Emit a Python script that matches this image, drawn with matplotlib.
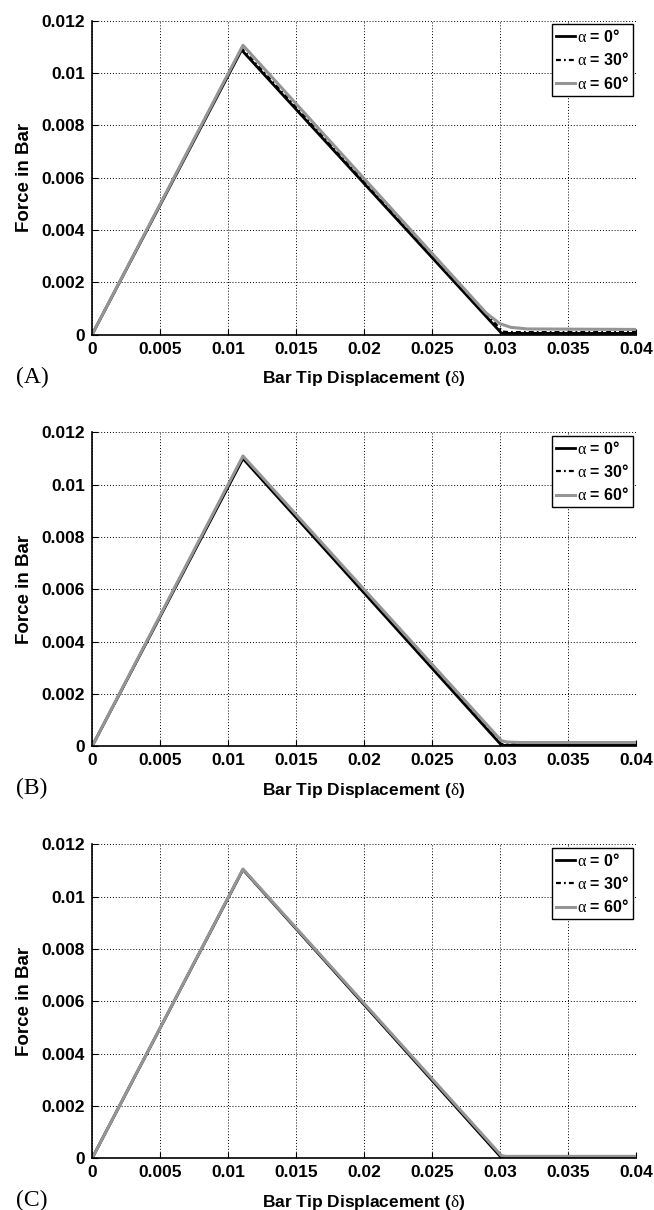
"""
Force in bar vs. bar tip displacement for three loading angles, three cases
"""

import matplotlib
import matplotlib.pyplot as plt
matplotlib.use("AGG")

plt.rcParams['font.family'] = ['Liberation Sans', 'DejaVu Sans']
plt.rcParams['mathtext.fontset'] = 'custom'
plt.rcParams['mathtext.rm'] = 'Liberation Serif'
plt.rcParams['mathtext.it'] = 'Liberation Serif'
plt.rcParams['mathtext.bf'] = 'Liberation Serif'

# ---- data (displacement, force) per case and angle ----
labels = [r'$\alpha$ = 0°', r'$\alpha$ = 30°', r'$\alpha$ = 60°']
panel_names = ['(A)', '(B)', '(C)']

# case A
a_x0 = [0, 0.0110, 0.0301, 0.0304, 0.04]
a_y0 = [0, 0.01088, 0.00006, 0.00005, 0.00005]
a_x30 = [0, 0.0110, 0.0302, 0.0306, 0.04]
a_y30 = [0, 0.01095, 0.00012, 0.00010, 0.00010]
a_x60 = [0, 0.0111, 0.0290, 0.0300, 0.0308, 0.0320, 0.04]
a_y60 = [0, 0.01106, 0.00082, 0.00042, 0.00028, 0.00022, 0.00020]

# case B
b_x0 = [0, 0.0111, 0.0301, 0.0303, 0.04]
b_y0 = [0, 0.01100, 0.00005, 0.00004, 0.00004]
b_x30 = [0, 0.0111, 0.0301, 0.0304, 0.04]
b_y30 = [0, 0.01104, 0.00009, 0.00008, 0.00008]
b_x60 = [0, 0.0111, 0.0301, 0.0305, 0.0315, 0.04]
b_y60 = [0, 0.01110, 0.00022, 0.00017, 0.00015, 0.00015]

# case C
c_x0 = [0, 0.0111, 0.0301, 0.0302, 0.04]
c_y0 = [0, 0.01104, 0.00003, 0.00002, 0.00002]
c_x30 = [0, 0.0111, 0.0301, 0.0303, 0.04]
c_y30 = [0, 0.01105, 0.00005, 0.00004, 0.00004]
c_x60 = [0, 0.0111, 0.0301, 0.0304, 0.04]
c_y60 = [0, 0.01106, 0.00011, 0.00008, 0.00008]

cases = [
    [(a_x0, a_y0), (a_x30, a_y30), (a_x60, a_y60)],
    [(b_x0, b_y0), (b_x30, b_y30), (b_x60, b_y60)],
    [(c_x0, c_y0), (c_x30, c_y30), (c_x60, c_y60)],
]

x_ticks = [0, 0.005, 0.01, 0.015, 0.02, 0.025, 0.03, 0.035, 0.04]
x_tick_labels = ['0', '0.005', '0.01', '0.015', '0.02', '0.025', '0.03', '0.035', '0.04']
y_ticks = [0, 0.002, 0.004, 0.006, 0.008, 0.01, 0.012]
y_tick_labels = ['0', '0.002', '0.004', '0.006', '0.008', '0.01', '0.012']

styles = [
    dict(color='black', linestyle='-', linewidth=2.0),
    dict(color='black', linestyle=(0, (2.2, 1.4, 0.8, 1.4)), linewidth=1.6),
    dict(color='#959595', linestyle='-', linewidth=2.2),
]

fig = plt.figure(figsize=(6.54, 12.10), dpi=100)
left, width, height = 0.1407, 0.8318, 0.2595
bottoms = [0.7234, 0.3831, 0.0426]

for curves, name, bottom in zip(cases, panel_names, bottoms):
    ax = fig.add_axes([left, bottom, width, height])
    # grey (60 deg) curve is drawn last so it sits on top
    for (x, y), lab, st in zip(curves, labels, styles):
        ax.plot(x, y, label=lab, **st)

    ax.set_xlim(0, 0.04)
    ax.set_ylim(0, 0.012)
    ax.set_xticks(x_ticks)
    ax.set_xticklabels(x_tick_labels)
    ax.set_yticks(y_ticks)
    ax.set_yticklabels(y_tick_labels)
    ax.tick_params(direction='in', length=4, width=0.8, labelsize=12.5, pad=5)
    for lbl in ax.get_xticklabels() + ax.get_yticklabels():
        lbl.set_fontweight('bold')

    ax.grid(True, color='black', linestyle=(0, (1, 2)), linewidth=0.7)
    ax.spines['top'].set_visible(False)
    ax.spines['right'].set_visible(False)
    ax.spines['left'].set_linewidth(1.2)
    ax.spines['bottom'].set_linewidth(1.2)

    ax.set_xlabel(r'Bar Tip Displacement ($\delta$)', fontsize=12.5,
                  fontweight='bold', labelpad=9)
    ax.set_ylabel('Force in Bar', fontsize=13.5, fontweight='bold', labelpad=6)

    leg = ax.legend(loc='upper right',
                    prop={'weight': 'bold', 'size': 11.5},
                    frameon=True, fancybox=False, edgecolor='black',
                    framealpha=1, borderpad=0.25, labelspacing=0.4,
                    handlelength=1.2, handletextpad=0.1,
                    borderaxespad=0.2)
    leg.get_frame().set_linewidth(1.0)

    ax.text(-0.14, -0.135, name, transform=ax.transAxes,
            fontsize=17, family='Liberation Serif', ha='left', va='center')

plt.savefig('out.png', dpi=100)
